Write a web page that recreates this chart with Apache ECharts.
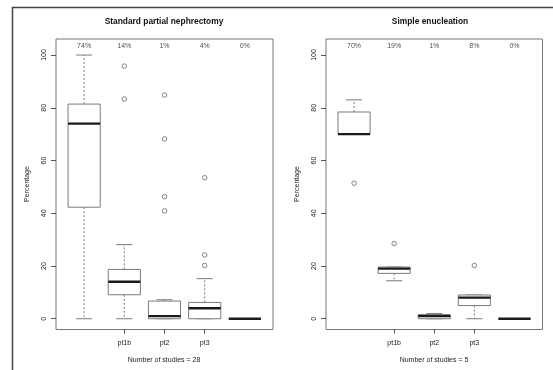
<!DOCTYPE html>
<html>
<head>
<meta charset="utf-8">
<script src="https://cdn.jsdelivr.net/npm/echarts@6/dist/echarts.min.js"></script>
<style>
  html, body { margin: 0; padding: 0; background: #fff; overflow: hidden; }
  #chart { width: 553px; height: 370px; }
</style>
</head>
<body>
<div id="chart"></div>
<script>
// Tumour stage distribution per surgical technique (box-and-whisker summaries)
const categories = ['pt1a', 'pt1b', 'pt2', 'pt3', 'pt4'];
const panelTitles = ['Standard partial nephrectomy', 'Simple enucleation'];
const studyCounts = [28, 5];
const yTicks = [0, 20, 40, 60, 80, 100];
const yTitle = 'Percentage';

// Standard partial nephrectomy
const spnLower   = [0, 0, 0, 0, 0];
const spnQ1      = [42.3, 9.1, 0, 0, 0];
const spnMedian  = [74, 14, 1, 4, 0];
const spnQ3      = [81.4, 18.7, 6.7, 6.2, 0];
const spnUpper   = [100, 28.1, 7.2, 15.2, 0];
const spnOutliers = [[], [95.8, 83.3], [84.8, 68.2, 46.3, 40.9], [53.5, 24.2, 20.2], []];

// Simple enucleation
const seLower   = [70, 14.4, 0, 0, 0];
const seQ1      = [70, 17.2, 0, 5.0, 0];
const seMedian  = [70, 19, 1, 8, 0];
const seQ3      = [78.4, 19.6, 1.6, 9.0, 0];
const seUpper   = [83.0, 19.6, 2.0, 9.0, 0];
const seOutliers = [[51.4], [28.5], [], [20.2], []];

const FONT = "'Liberation Sans', Arial, Helvetica, sans-serif";
const BOX_GRAY = '#7a7a7a';
const TEXT = '#222';

const panels = [
  { lower: spnLower, q1: spnQ1, median: spnMedian, q3: spnQ3, upper: spnUpper, outliers: spnOutliers },
  { lower: seLower, q1: seQ1, median: seMedian, q3: seQ3, upper: seUpper, outliers: seOutliers }
];

const gridLayout = [
  { left: 56, right: 280, top: 39, bottom: 40.5 },
  { left: 326, right: 10.5, top: 39, bottom: 40.5 }
];
// centre of each plot area, used for the axis titles
const plotCentreX = [164, 434];
const plotCentreY = 184;

function renderBox(params, api) {
  const x = api.value(0);
  const lo = api.value(1), q1 = api.value(2), med = api.value(3), q3 = api.value(4), hi = api.value(5);
  const boxW = api.size([0.8, 0])[0];
  const capW = boxW / 2;
  const pLo = api.coord([x, lo]);
  const pQ1 = api.coord([x, q1]);
  const pMed = api.coord([x, med]);
  const pQ3 = api.coord([x, q3]);
  const pHi = api.coord([x, hi]);
  const cx = pMed[0];
  const whisker = { stroke: BOX_GRAY, lineWidth: 1, lineDash: [2, 2] };
  const solid = { stroke: BOX_GRAY, lineWidth: 1 };
  const children = [];
  if (pHi[1] < pQ3[1]) {
    children.push({ type: 'line', shape: { x1: cx, y1: pQ3[1], x2: cx, y2: pHi[1] }, style: whisker });
  }
  if (pLo[1] > pQ1[1]) {
    children.push({ type: 'line', shape: { x1: cx, y1: pQ1[1], x2: cx, y2: pLo[1] }, style: whisker });
  }
  children.push({ type: 'line', shape: { x1: cx - capW / 2, y1: pHi[1], x2: cx + capW / 2, y2: pHi[1] }, style: solid });
  children.push({ type: 'line', shape: { x1: cx - capW / 2, y1: pLo[1], x2: cx + capW / 2, y2: pLo[1] }, style: solid });
  children.push({
    type: 'rect',
    shape: { x: cx - boxW / 2, y: pQ3[1], width: boxW, height: pQ1[1] - pQ3[1] },
    style: { fill: '#fff', stroke: BOX_GRAY, lineWidth: 1 }
  });
  children.push({
    type: 'line',
    shape: { x1: cx - boxW / 2, y1: pMed[1], x2: cx + boxW / 2, y2: pMed[1] },
    style: { stroke: '#1a1a1a', lineWidth: 2.4 }
  });
  return { type: 'group', children: children };
}

const grids = [], xAxes = [], yAxes = [], series = [], titles = [];
const graphics = [{
  type: 'rect',
  shape: { x: 12.5, y: 7.5, width: 600, height: 400 },
  style: { fill: null, stroke: '#444', lineWidth: 1.5 },
  silent: true
}];

panels.forEach((p, i) => {
  grids.push(Object.assign({ show: true, borderColor: '#777', borderWidth: 1, backgroundColor: 'transparent' }, gridLayout[i]));
  xAxes.push({
    type: 'value', gridIndex: i, min: 0.3, max: 5.7,
    axisLine: { show: false, onZero: false },
    splitLine: { show: false },
    axisTick: { show: true, customValues: [1, 2, 3, 4, 5], length: 4, lineStyle: { color: '#555' } },
    axisLabel: {
      customValues: [1, 2, 3, 4, 5], margin: 10, showMinLabel: false, showMaxLabel: false,
      fontFamily: FONT, fontSize: 7, color: TEXT,
      formatter: v => categories[Math.round(v) - 1] || ''
    }
  });
  yAxes.push({
    type: 'value', gridIndex: i, min: -4.08, max: 106.08,
    axisLine: { show: false, onZero: false },
    splitLine: { show: false },
    axisTick: { show: true, customValues: yTicks, length: 5, lineStyle: { color: '#555' } },
    axisLabel: { customValues: yTicks, rotate: 90, margin: 8, fontFamily: FONT, fontSize: 7, color: TEXT }
  });
  titles.push({
    text: panelTitles[i],
    left: i === 0 ? 164 : 430, top: 18, textAlign: 'center', padding: 0,
    textStyle: { fontFamily: FONT, fontSize: 8.4, fontWeight: 'bold', color: '#111' }
  });

  // axis titles
  graphics.push({
    type: 'text', x: plotCentreX[i], y: 360, silent: true,
    style: { text: 'Number of studies = ' + studyCounts[i], font: '7px ' + FONT, fill: TEXT, align: 'center', verticalAlign: 'middle' }
  });
  graphics.push({
    type: 'text', x: gridLayout[i].left - 29, y: plotCentreY, rotation: Math.PI / 2, silent: true,
    style: { text: yTitle, font: '7px ' + FONT, fill: TEXT, align: 'center', verticalAlign: 'middle' }
  });

  const boxData = categories.map((c, k) => [k + 1, p.lower[k], p.q1[k], p.median[k], p.q3[k], p.upper[k]]);
  series.push({
    type: 'custom', xAxisIndex: i, yAxisIndex: i,
    renderItem: renderBox,
    encode: { x: 0, y: [1, 2, 3, 4, 5] },
    data: boxData, silent: true, clip: true
  });

  const outlierData = [];
  p.outliers.forEach((vals, k) => vals.forEach(v => outlierData.push([k + 1, v])));
  series.push({
    type: 'scatter', xAxisIndex: i, yAxisIndex: i,
    symbol: 'circle', symbolSize: 4.5,
    itemStyle: { color: '#fff', borderColor: '#666', borderWidth: 1 },
    data: outlierData, silent: true, clip: true
  });

  // median share printed above each box
  series.push({
    type: 'scatter', xAxisIndex: i, yAxisIndex: i,
    symbolSize: 0, clip: true,
    data: categories.map((c, k) => [k + 1, 103.4, p.median[k]]),
    label: {
      show: true, position: 'inside',
      formatter: d => d.value[2] + '%',
      fontFamily: FONT, fontSize: 7, color: TEXT
    },
    silent: true
  });
});

const chart = echarts.init(document.getElementById('chart'), null, { renderer: 'canvas' });
chart.setOption({
  animation: false,
  backgroundColor: '#fff',
  title: titles,
  grid: grids,
  xAxis: xAxes,
  yAxis: yAxes,
  series: series,
  graphic: graphics
});
</script>
</body>
</html>
